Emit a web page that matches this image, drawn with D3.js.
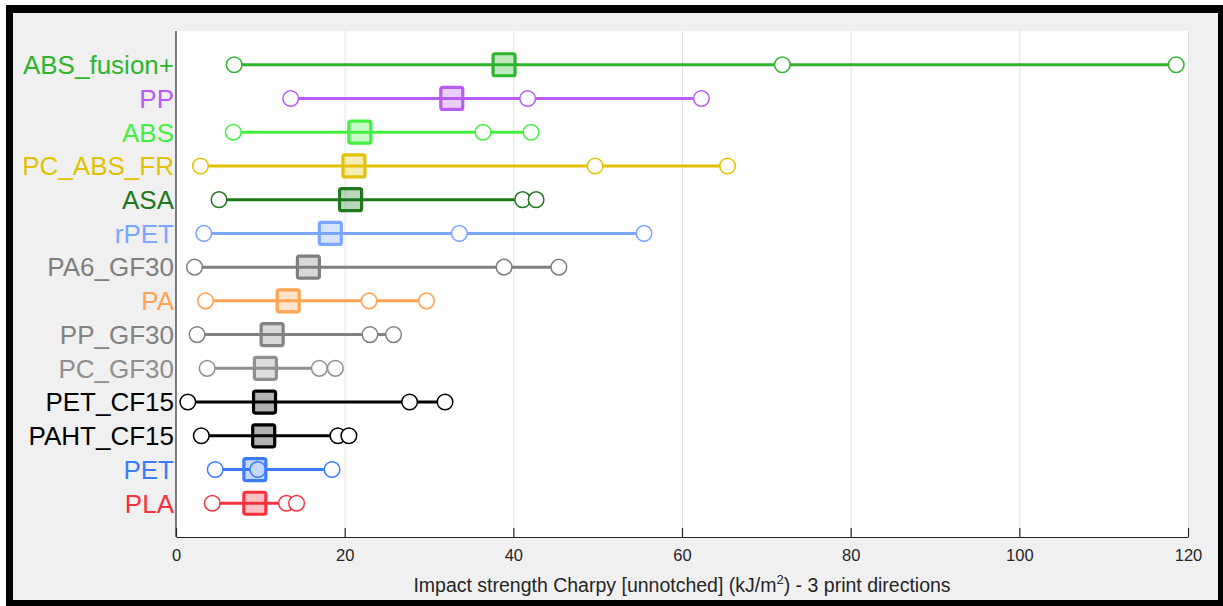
<!DOCTYPE html>
<html><head><meta charset="utf-8">
<script src="https://cdn.jsdelivr.net/npm/d3@7"></script>
<style>html,body{margin:0;padding:0;background:#fff;}svg{display:block;font-family:"Liberation Sans",Arial,Helvetica,sans-serif;}</style>
</head><body><svg id="c" width="1223" height="606"></svg>
<script>
const categories = ["ABS_fusion+","PP","ABS","PC_ABS_FR","ASA","rPET","PA6_GF30","PA","PP_GF30","PC_GF30","PET_CF15","PAHT_CF15","PET","PLA"];
const dirA = [6.9, 13.6, 6.8, 2.9, 5.1, 3.3, 2.2, 3.5, 2.5, 3.7, 1.4, 3.0, 4.65, 4.3];
const dirB = [71.9, 41.7, 36.4, 49.7, 41.1, 33.6, 38.9, 22.9, 23.0, 17.0, 27.7, 19.2, 9.7, 13.1];
const dirC = [118.6, 62.3, 42.1, 65.4, 42.7, 55.5, 45.4, 29.7, 25.8, 18.9, 31.9, 20.5, 18.5, 14.3];
const boxValue = [38.9, 32.7, 21.8, 21.1, 20.7, 18.3, 15.7, 13.3, 11.4, 10.6, 10.5, 10.4, 9.35, 9.35];
const colors = ["#2eb52e","#b85cf5","#42f042","#e2c200","#1e781e","#7aa6ff","#7f7f7f","#ffa252","#828282","#8f8f8f","#000000","#000000","#3a7cff","#f5323e"];
const xTicks = [0,20,40,60,80,100,120];

const svg = d3.select("#c");
svg.append("rect").attr("x",6).attr("y",5).attr("width",1217).attr("height",601).attr("fill","#000");
svg.append("rect").attr("x",13).attr("y",13).attr("width",1205).attr("height",587).attr("fill","#f0f0f0");

const L=176, R=1188, T=31, B=537;
const x = d3.scaleLinear().domain([0,120]).range([L,R]);
const y = d3.scalePoint().domain(categories).range([T,B]).padding(1);

svg.append("rect").attr("x",L).attr("y",T).attr("width",R-L).attr("height",B-T).attr("fill","#fff");

// grid
svg.append("g").selectAll("line").data(xTicks.filter(d=>d>0)).join("line")
  .attr("x1",d=>x(d)+0.5).attr("x2",d=>x(d)+0.5).attr("y1",T).attr("y2",B)
  .attr("stroke","#e2e2e2").attr("stroke-width",1);

// x axis
const ax = svg.append("g").attr("transform",`translate(0,${B})`)
  .call(d3.axisBottom(x).tickValues(xTicks).tickSizeInner(-9).tickSizeOuter(0).tickPadding(0));
ax.select(".domain").attr("stroke","#262626").attr("stroke-width",1.2);
ax.selectAll(".tick line").attr("stroke","#262626").attr("stroke-width",1.2);
ax.selectAll(".tick text").attr("y",24).attr("dy",null).attr("fill","#262626")
  .style("font-size","16.5px").style("font-family","'Liberation Sans',Arial,sans-serif");

// y axis line
svg.append("line").attr("x1",L).attr("x2",L).attr("y1",T).attr("y2",B).attr("stroke","#262626").attr("stroke-width",1.2);

// labels
svg.append("g").selectAll("text").data(categories).join("text")
  .attr("x",L-2).attr("y",(d)=>y(d)).attr("dy","0.36em").attr("text-anchor","end")
  .attr("fill",(d,i)=>colors[i]).style("font-size","26px").text(d=>d);

const rows = categories.map((c,i)=>({c, i, vals:[dirA[i],dirB[i],dirC[i]], box:boxValue[i], col:colors[i]}));
svg.append("clipPath").attr("id","pc").append("rect").attr("x",L).attr("y",T-20).attr("width",R-L+30).attr("height",B-T+40);
const plot = svg.append("g").attr("clip-path","url(#pc)");

// range lines
plot.selectAll("line.rng").data(rows).join("line").attr("class","rng")
  .attr("x1",d=>x(d3.min(d.vals))).attr("x2",d=>x(d3.max(d.vals)))
  .attr("y1",d=>y(d.c)).attr("y2",d=>y(d.c)).attr("stroke",d=>d.col).attr("stroke-width",3);

// circles
rows.forEach(r=>{
  plot.selectAll(null).data(r.vals).join("circle")
    .attr("cx",v=>x(v)).attr("cy",y(r.c)).attr("r",7.8)
    .attr("fill","#fff").attr("stroke",r.col).attr("stroke-width",1.5);
});

// boxes
const bs=22;
plot.selectAll("rect.bx").data(rows).join("rect").attr("class","bx")
  .attr("x",d=>x(d.box)-bs/2).attr("y",d=>y(d.c)-bs/2).attr("width",bs).attr("height",bs)
  .attr("rx",2).attr("fill",d=>d.col).attr("fill-opacity",0.3)
  .attr("stroke",d=>d.col).attr("stroke-width",3.2);

// x title
const tt = svg.append("text").attr("x",(L+R)/2).attr("y",592).attr("text-anchor","middle")
  .attr("fill","#262626").style("font-size","19.5px");
tt.append("tspan").text("Impact strength Charpy [unnotched] (kJ/m");
tt.append("tspan").attr("dy",-8).style("font-size","13px").text("2");
tt.append("tspan").attr("dy",8).text(") - 3 print directions");
</script></body></html>
